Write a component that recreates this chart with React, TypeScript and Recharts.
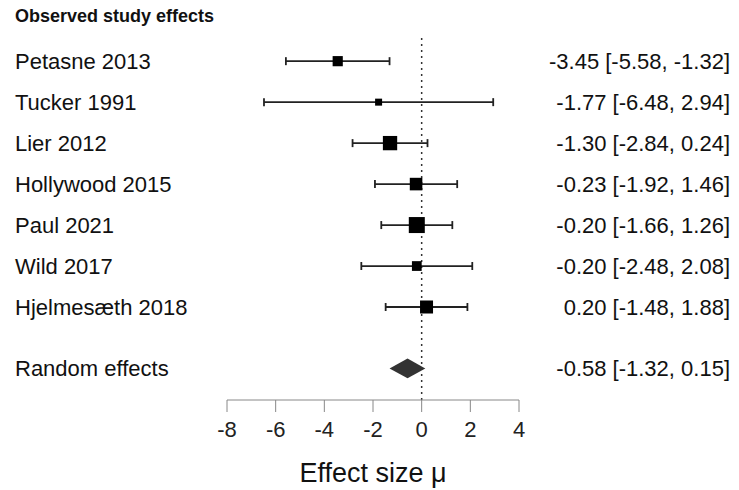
import {
  ComposedChart,
  ErrorBar,
  ReferenceArea,
  ReferenceLine,
  Scatter,
  XAxis,
  YAxis,
} from 'recharts';

const CHART_W = 739;
const CHART_H = 490;
const FONT = '"Liberation Sans", Arial, Helvetica, sans-serif';

// study-level data
const STUDIES = [
  'Petasne 2013',
  'Tucker 1991',
  'Lier 2012',
  'Hollywood 2015',
  'Paul 2021',
  'Wild 2017',
  'Hjelmesæth 2018',
];
const EST = [-3.45, -1.77, -1.3, -0.23, -0.2, -0.2, 0.2];
const LOWER = [-5.58, -6.48, -2.84, -1.92, -1.66, -2.48, -1.48];
const UPPER = [-1.32, 2.94, 0.24, 1.46, 1.26, 2.08, 1.88];
const WEIGHTS = [9.5, 2.2, 19.0, 15.0, 22.9, 8.5, 16.0];

// pooled estimate
const POOLED_LABEL = 'Random effects';
const POOLED = { est: -0.58, lower: -1.32, upper: 0.15 };

// row positions (1 = top)
const STUDY_ROWS = [1, 2, 3, 4, 5, 6, 7];
const POOLED_ROW = 8.5;
const Y_DOMAIN: [number, number] = [0.41, 9.27];

const X_TICKS = [-8, -6, -4, -2, 0, 2, 4];

const fmt = (v: number) => v.toFixed(2);

const studyData = STUDIES.map((name, i) => ({
  name,
  row: STUDY_ROWS[i],
  est: EST[i],
  weight: WEIGHTS[i],
  errX: [EST[i] - LOWER[i], UPPER[i] - EST[i]],
  text: `${fmt(EST[i])} [${fmt(LOWER[i])}, ${fmt(UPPER[i])}]`,
}));

const ROW_TICKS = [...STUDY_ROWS, POOLED_ROW];
const LEFT_LABELS = [...STUDIES, POOLED_LABEL];
const RIGHT_LABELS = [
  ...studyData.map((d) => d.text),
  `${fmt(POOLED.est)} [${fmt(POOLED.lower)}, ${fmt(POOLED.upper)}]`,
];

const wMin = Math.min(...WEIGHTS);
const wMax = Math.max(...WEIGHTS);

function SquareShape(props: any) {
  const { cx, cy, payload } = props;
  const side = 7 + (9 * (payload.weight - wMin)) / (wMax - wMin);
  return <rect x={cx - side / 2} y={cy - side / 2} width={side} height={side} fill="#000" />;
}

function DiamondShape(props: any) {
  const { x, y, width, height } = props;
  const mid = x + (width * (POOLED.est - POOLED.lower)) / (POOLED.upper - POOLED.lower);
  const cy = y + height / 2;
  const pts = `${x},${cy} ${mid},${y} ${x + width},${cy} ${mid},${y + height}`;
  return <polygon points={pts} fill="#333" />;
}

function LeftTick(props: any) {
  const { y, payload } = props;
  const idx = ROW_TICKS.indexOf(payload.value);
  return (
    <text x={15} y={y} dy={8} textAnchor="start" fontSize={22} fill="#111" fontFamily={FONT}>
      {LEFT_LABELS[idx]}
    </text>
  );
}

function RightTick(props: any) {
  const { y, payload } = props;
  const idx = ROW_TICKS.indexOf(payload.value);
  return (
    <text x={CHART_W - 9} y={y} dy={8} textAnchor="end" fontSize={22} fill="#111" fontFamily={FONT}>
      {RIGHT_LABELS[idx]}
    </text>
  );
}

export default function App() {
  return (
    <div style={{ position: 'absolute', left: 0, top: 0, width: CHART_W, height: CHART_H, background: '#fff', fontFamily: FONT }}>
      <div
        style={{
          position: 'absolute',
          left: 15,
          top: 6,
          fontSize: 18,
          fontWeight: 'bold',
          color: '#111',
          fontFamily: FONT,
        }}
      >
        Observed study effects
      </div>
      <ComposedChart width={CHART_W} height={CHART_H} margin={{ top: 37, right: 0, left: 0, bottom: 0 }}>
        <XAxis
          type="number"
          dataKey="est"
          domain={[-8, 4]}
          ticks={X_TICKS}
          interval={0}
          allowDataOverflow
          height={90}
          tickSize={12}
          tickMargin={9}
          stroke="#888"
          tick={{ fontSize: 22, fill: '#222', fontFamily: FONT }}
          label={{
            value: 'Effect size μ',
            position: 'insideBottom',
            offset: 8,
            fontSize: 27,
            fill: '#111',
            fontFamily: FONT,
          }}
        />
        <YAxis
          yAxisId="left"
          type="number"
          dataKey="row"
          domain={Y_DOMAIN}
          reversed
          allowDataOverflow
          ticks={ROW_TICKS}
          interval={0}
          width={227}
          axisLine={false}
          tickLine={false}
          tick={<LeftTick />}
        />
        <YAxis
          yAxisId="right"
          orientation="right"
          type="number"
          dataKey="row"
          domain={Y_DOMAIN}
          reversed
          allowDataOverflow
          ticks={ROW_TICKS}
          interval={0}
          width={220}
          axisLine={false}
          tickLine={false}
          tick={<RightTick />}
        />
        <ReferenceLine x={0} yAxisId="left" stroke="#333" strokeWidth={1.5} strokeDasharray="2 4" />
        <Scatter yAxisId="left" data={studyData} shape={<SquareShape />} isAnimationActive={false}>
          <ErrorBar dataKey="errX" direction="x" width={4} stroke="#222" strokeWidth={1.8} />
        </Scatter>
        <ReferenceArea
          yAxisId="left"
          x1={POOLED.lower}
          x2={POOLED.upper}
          y1={POOLED_ROW - 0.24}
          y2={POOLED_ROW + 0.24}
          shape={<DiamondShape />}
        />
      </ComposedChart>
    </div>
  );
}
